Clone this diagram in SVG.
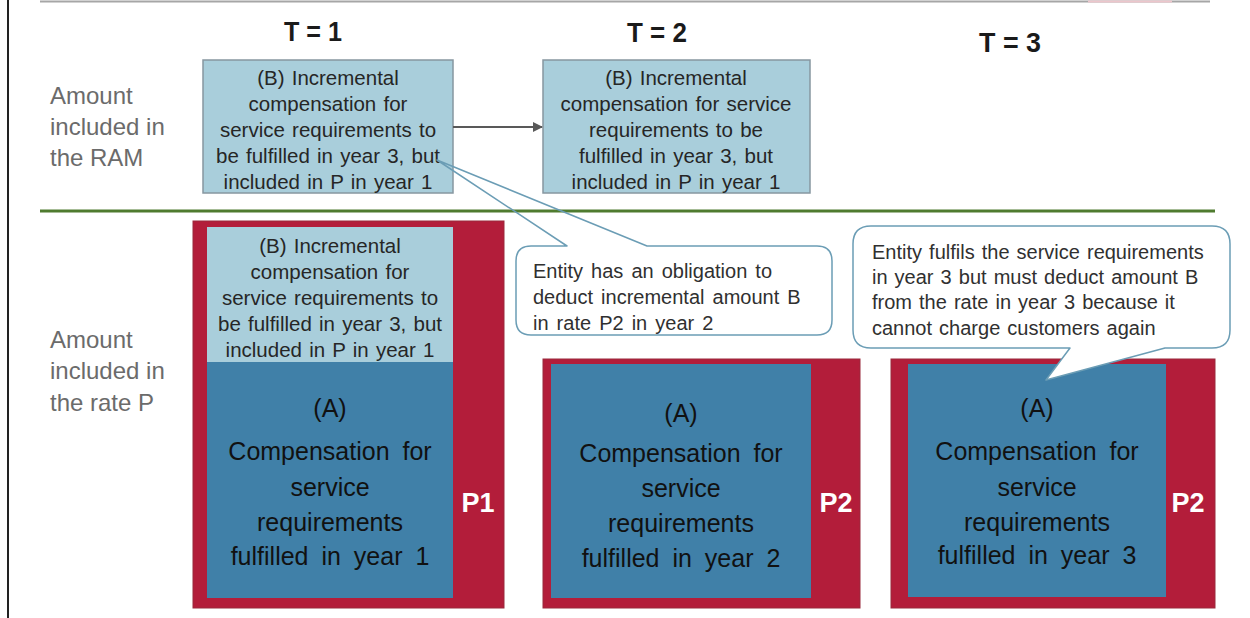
<svg xmlns="http://www.w3.org/2000/svg" width="1250" height="618" viewBox="0 0 1250 618">
<defs>
<style>
.hdr{font-family:"Liberation Sans",Arial,sans-serif;font-weight:bold;font-size:27px;fill:#1a1a1a;text-anchor:middle;}
.lbl{font-family:"Liberation Sans",Arial,sans-serif;font-size:24px;fill:#6b6b6b;}
.bt{font-family:"Liberation Sans",Arial,sans-serif;font-size:20.5px;fill:#262626;text-anchor:middle;word-spacing:1.5px;}
.at{font-family:"Liberation Sans",Arial,sans-serif;font-size:25px;fill:#111;text-anchor:middle;word-spacing:6px;}
.ct{font-family:"Liberation Sans",Arial,sans-serif;font-size:20px;fill:#303030;word-spacing:2.5px;}
.pt{font-family:"Liberation Sans",Arial,sans-serif;font-weight:bold;font-size:27px;fill:#fff;text-anchor:middle;}
.lb{fill:#a9cedb;}
.lbs{fill:#a9cedb;stroke:#8797a0;stroke-width:1.5;}
.db{fill:#4080a8;}
.red{fill:#b31d3a;stroke:#9a2a3c;stroke-width:1;}
.co{fill:none;stroke:#6b9db5;stroke-width:1.5;stroke-linejoin:round;}
</style>
<marker id="ah" markerWidth="10" markerHeight="10" refX="9" refY="5" orient="auto" markerUnits="userSpaceOnUse">
<path d="M0,0 L10,5 L0,10 Z" fill="#595959"/>
</marker>
</defs>
<rect width="1250" height="618" fill="#fff"/>
<line x1="40" y1="1.5" x2="1210" y2="1.5" stroke="#a6a6a6" stroke-width="2"/>
<line x1="1088" y1="1.5" x2="1172" y2="1.5" stroke="#ecc6cc" stroke-width="2"/>
<line x1="8" y1="0" x2="8" y2="618" stroke="#222" stroke-width="2"/>

<g id="headers">
<text class="hdr" x="313" y="41" textLength="58" lengthAdjust="spacingAndGlyphs">T = 1</text>
<text class="hdr" x="657" y="42" textLength="60" lengthAdjust="spacingAndGlyphs">T = 2</text>
<text class="hdr" x="1010" y="52" textLength="62" lengthAdjust="spacingAndGlyphs">T = 3</text>
</g>

<g id="row-labels">
<text class="lbl" x="50" y="104">Amount</text>
<text class="lbl" x="50" y="135">included in</text>
<text class="lbl" x="50" y="166">the RAM</text>
<text class="lbl" x="50" y="348">Amount</text>
<text class="lbl" x="50" y="379">included in</text>
<text class="lbl" x="50" y="411">the rate P</text>
</g>

<line x1="40" y1="211" x2="1215" y2="211" stroke="#4f7b2f" stroke-width="3"/>

<g id="ram-t1">
<rect class="lbs" x="203" y="60" width="250" height="133"/>
<text class="bt" x="328" y="85">(B)  Incremental</text>
<text class="bt" x="328" y="111">compensation for</text>
<text class="bt" x="328" y="137">service requirements to</text>
<text class="bt" x="328" y="163">be fulfilled  in year 3, but</text>
<text class="bt" x="328" y="189">included in P in year 1</text>
</g>

<g id="ram-t2">
<rect class="lbs" x="543" y="60" width="267" height="133"/>
<text class="bt" x="676" y="85">(B)  Incremental</text>
<text class="bt" x="676" y="111">compensation for service</text>
<text class="bt" x="676" y="137">requirements to be</text>
<text class="bt" x="676" y="163">fulfilled  in year 3, but</text>
<text class="bt" x="676" y="189">included in P in year 1</text>
</g>

<g id="connectors">
<line x1="453" y1="127" x2="542" y2="127" stroke="#595959" stroke-width="2" marker-end="url(#ah)"/>
</g>

<g id="rate-t1">
<rect class="red" x="193" y="221" width="311" height="387"/>
<rect class="lb" x="207" y="227" width="246" height="135"/>
<rect class="db" x="207" y="362" width="246" height="236"/>
<text class="bt" x="330" y="253">(B)  Incremental</text>
<text class="bt" x="330" y="279">compensation for</text>
<text class="bt" x="330" y="305">service requirements to</text>
<text class="bt" x="330" y="331">be fulfilled  in year 3, but</text>
<text class="bt" x="330" y="357">included in P in year 1</text>
<text class="at" x="330" y="417">(A)</text>
<text class="at" x="330" y="460">Compensation  for</text>
<text class="at" x="330" y="496">service</text>
<text class="at" x="330" y="531">requirements</text>
<text class="at" x="330" y="565">fulfilled  in year 1</text>
<text class="pt" x="478" y="512">P1</text>
</g>

<g id="rate-t2">
<rect class="red" x="543" y="359" width="317" height="249"/>
<rect class="db" x="551" y="364" width="260" height="234"/>
<text class="at" x="681" y="422">(A)</text>
<text class="at" x="681" y="462">Compensation  for</text>
<text class="at" x="681" y="497">service</text>
<text class="at" x="681" y="532">requirements</text>
<text class="at" x="681" y="567">fulfilled  in year 2</text>
<text class="pt" x="836" y="512">P2</text>
</g>

<g id="rate-t3">
<rect class="red" x="891" y="359" width="324" height="249"/>
<rect class="db" x="908" y="364" width="258" height="233"/>
<text class="at" x="1037" y="417">(A)</text>
<text class="at" x="1037" y="460">Compensation  for</text>
<text class="at" x="1037" y="496">service</text>
<text class="at" x="1037" y="531">requirements</text>
<text class="at" x="1037" y="564">fulfilled  in year 3</text>
<text class="pt" x="1188" y="512">P2</text>
</g>

<g id="callout-1">
<rect x="516" y="246" width="316" height="89" rx="15" fill="#fff"/>
<path class="co" d="M531,246 L567,246 L437,160 L647,246 L817,246 Q832,246 832,261 L832,320 Q832,335 817,335 L531,335 Q516,335 516,320 L516,261 Q516,246 531,246 Z"/>
<text class="ct" x="533" y="278">Entity has an obligation to</text>
<text class="ct" x="533" y="304">deduct incremental  amount  B</text>
<text class="ct" x="533" y="330">in rate P2 in year 2</text>
</g>

<g id="callout-2">
<path d="M871,226 L1212,226 Q1230,226 1230,244 L1230,330 Q1230,348 1212,348 L1165,348 L1046,380 L1070,348 L871,348 Q853,348 853,330 L853,244 Q853,226 871,226 Z" fill="#fff" stroke="#6b9db5" stroke-width="1.5" stroke-linejoin="round"/>
<text class="ct" x="872" y="259" style="word-spacing:1.5px">Entity fulfils the service requirements</text>
<text class="ct" x="872" y="284" style="word-spacing:1.5px">in year 3 but must deduct amount B</text>
<text class="ct" x="872" y="309" style="word-spacing:1.5px">from the rate in year 3 because it</text>
<text class="ct" x="872" y="335" style="word-spacing:1.5px">cannot charge customers again</text>
</g>
</svg>
